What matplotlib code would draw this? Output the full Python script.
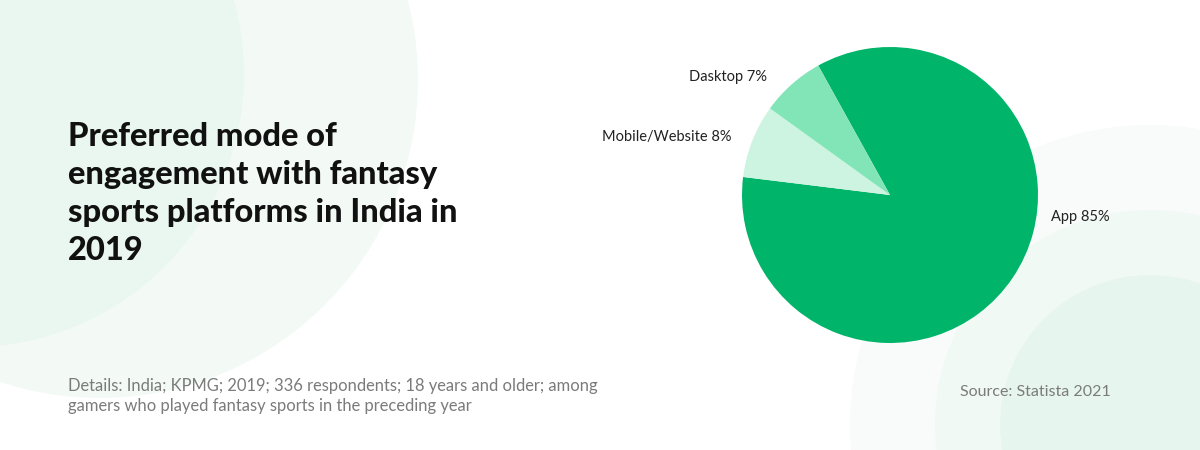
import matplotlib
matplotlib.use("Agg")
import matplotlib.pyplot as plt
from matplotlib.patches import Circle

# data
categories = ["App", "Mobile/Website", "Dasktop"]
shares = [85, 8, 7]
colors = ["#00b469", "#ccf4e1", "#82e5b8"]
# label anchor positions in pie data units (radius = 1)
label_pos = [(1.09, -0.15), (-1.07, 0.39), (-0.83, 0.80)]
label_ha = ["left", "right", "right"]

title = "Preferred mode of\nengagement with fantasy\nsports platforms in India in\n2019"
details = ("Details: India; KPMG; 2019; 336 respondents; 18 years and older; among\n"
           "gamers who played fantasy sports in the preceding year")
source = "Source: Statista 2021"

W, H = 1200, 450
fig = plt.figure(figsize=(12, 4.5), dpi=100)
fig.patch.set_facecolor("white")

# background decoration (pixel coordinates)
bg = fig.add_axes([0, 0, 1, 1])
bg.set_xlim(0, W)
bg.set_ylim(H, 0)
bg.axis("off")
for cx, cy, r, c in [(100, 80, 318, "#f3faf6"), (-29, 74, 273, "#eaf6f0"),
                     (1150, 425, 300, "#f8fbfa"), (1150, 425, 215, "#f1f9f5"),
                     (1150, 425, 150, "#e6f5ee")]:
    bg.add_patch(Circle((cx, cy), r, color=c, lw=0))

# pie
cx, cy, r = 890, 195, 148
ax = fig.add_axes([(cx - r) / W, (H - cy - r) / H, 2 * r / W, 2 * r / H])
ax.pie(shares, colors=colors, startangle=119, counterclock=False,
       wedgeprops=dict(linewidth=0))
ax.set_xlim(-1, 1)
ax.set_ylim(-1, 1)
ax.set_aspect("equal")
ax.axis("off")
for cat, val, (lx, ly), ha in zip(categories, shares, label_pos, label_ha):
    ax.text(lx, ly, f"{cat} {val}%", ha=ha, va="center", fontsize=10.5,
            family="Lato", color="#222222", clip_on=False)

fig.text(68 / W, 1 - 122 / H, title, ha="left", va="top", fontsize=23.5,
         family="Lato", fontweight="black", color="#111111", linespacing=1.37)
fig.text(68 / W, 1 - 396 / H, details, ha="left", va="center", fontsize=11.9,
         family="Lato", color="#7b7b7b", linespacing=1.3)
fig.text(960 / W, 1 - 392 / H, source, ha="left", va="center", fontsize=11.5,
         family="Lato", color="#7b7b7b")

fig.savefig("out.png", dpi=100, facecolor="white")
